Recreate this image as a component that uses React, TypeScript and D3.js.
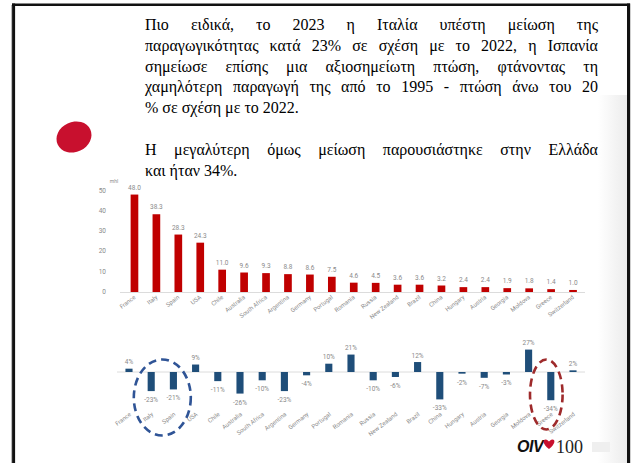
import React, { useMemo } from 'react';
import * as d3 from 'd3';

const countries = [
  'France', 'Italy', 'Spain', 'USA', 'Chile', 'Australia', 'South Africa', 'Argentina',
  'Germany', 'Portugal', 'Romania', 'Russia', 'New Zealand', 'Brazil', 'China', 'Hungary',
  'Austria', 'Georgia', 'Moldova', 'Greece', 'Switzerland',
];
const production = [48.0, 38.3, 28.3, 24.3, 11.0, 9.6, 9.3, 8.8, 8.6, 7.5, 4.6, 4.5, 3.6, 3.6, 3.2, 2.4, 2.4, 1.9, 1.8, 1.4, 1.0];
const changePct = [4, -23, -21, 9, -11, -26, -10, -23, -4, 10, 21, -10, -6, 12, -33, -2, -7, -3, 27, -34, 2];
const productionTicks = [0, 10, 20, 30, 40, 50];
const unitLabel = 'mhl';
const highlightBlue = ['Italy', 'Spain'];
const highlightRed = ['Greece'];

const paragraphLines: { text: string; justify: boolean }[] = [
  { text: 'Πιο ειδικά, το 2023 η Ιταλία υπέστη μείωση της', justify: true },
  { text: 'παραγωγικότητας κατά 23% σε σχέση με το 2022, η Ισπανία', justify: true },
  { text: 'σημείωσε επίσης μια αξιοσημείωτη πτώση, φτάνοντας τη', justify: true },
  { text: 'χαμηλότερη παραγωγή της από το 1995 - πτώση άνω του 20', justify: true },
  { text: '% σε σχέση με το 2022.', justify: false },
  { text: '', justify: false },
  { text: 'Η μεγαλύτερη όμως μείωση παρουσιάστηκε στην Ελλάδα', justify: true },
  { text: 'και ήταν 34%.', justify: false },
];

const W = 632;
const H = 463;
const SERIF = "'Liberation Serif', 'DejaVu Serif', serif";
const SANS = "'Liberation Sans Narrow', 'Roboto', 'Liberation Sans', sans-serif";
const TEXT_SIZE = 16;
const TEXT_LEFT = 145;
const TEXT_RIGHT = 598;
const TEXT_BASE = 30;
const TEXT_LH = 20.8;

function useLayout() {
  return useMemo(() => {
    const c = document.createElement('canvas');
    const ctx = c.getContext('2d')!;
    ctx.font = `${TEXT_SIZE}px ${SERIF}`;
    const spaceW = ctx.measureText(' ').width;
    return paragraphLines.map((ln) => {
      const words = ln.text.split(' ').filter((w) => w.length);
      const widths = words.map((w) => ctx.measureText(w).width);
      const total = widths.reduce((a, b) => a + b, 0);
      const gap = ln.justify && words.length > 1 ? (TEXT_RIGHT - TEXT_LEFT - total) / (words.length - 1) : spaceW;
      let x = TEXT_LEFT;
      return words.map((w, i) => {
        const pos = x;
        x += widths[i] + gap;
        return { w, x: pos };
      });
    });
  }, []);
}

export default function App() {
  const lines = useLayout();

  const xTop = d3.scaleBand<string>().domain(countries).range([123.5, 584]).paddingInner(0.65).paddingOuter(0.325);
  const yTop = d3.scaleLinear().domain([0, 50]).range([292, 190.5]);
  const xBot = d3.scaleBand<string>().domain(countries).range([117.9, 584.1]).paddingInner(0.68).paddingOuter(0.34);
  const yBot = d3.scaleLinear().domain([-40, 30]).range([405.2, 347.1]);

  const blueIdx = highlightBlue.map((c) => (xBot(c)! + xBot.bandwidth() / 2));
  const redIdx = highlightRed.map((c) => (xBot(c)! + xBot.bandwidth() / 2));
  const blueCx = (blueIdx[0] + blueIdx[blueIdx.length - 1]) / 2;
  const redCx = redIdx[0];

  return (
    <svg width={W} height={H} style={{ position: 'absolute', left: 0, top: 0 }} xmlns="http://www.w3.org/2000/svg">
      <defs>
        <linearGradient id="shade" x1="0" x2="1" y1="0" y2="0">
          <stop offset="0" stopColor="#ffffff" />
          <stop offset="1" stopColor="#ececec" />
        </linearGradient>
      </defs>
      <rect x={0} y={0} width={W} height={H} fill="#fff" />
      <rect x={598} y={95} width={29} height={H - 95} fill="url(#shade)" />

      {/* frame */}
      <line x1={12} x2={630} y1={4.8} y2={4.8} stroke="#111" strokeWidth={2.6} />
      <line x1={13.6} x2={13.6} y1={3.5} y2={H} stroke="#111" strokeWidth={3} />
      <line x1={628.6} x2={628.6} y1={3.5} y2={H} stroke="#111" strokeWidth={3.2} />
      <line x1={11.5} x2={11.5} y1={5} y2={H} stroke="#bbb" strokeWidth={1} />

      {/* decorative blob */}
      <ellipse cx={74} cy={137} rx={18} ry={15} transform="rotate(-25 74 137)" fill="#C8102E" />

      {/* paragraph */}
      <g fontFamily={SERIF} fontSize={TEXT_SIZE} fill="#000">
        {lines.map((ws, i) => (
          <text key={i} y={TEXT_BASE + i * TEXT_LH}>
            {ws.map((w, j) => (
              <tspan key={j} x={w.x}>{w.w}</tspan>
            ))}
          </text>
        ))}
      </g>

      {/* top chart: production */}
      <g fontFamily={SANS} fill="#8a8a8a">
        <text x={114} y={183} fontSize={5} textAnchor="middle">{unitLabel}</text>
        {productionTicks.map((t) => (
          <text key={t} x={106} y={yTop(t) + 2} fontSize={6.5} textAnchor="end">{t}</text>
        ))}
        <line x1={120} x2={585} y1={yTop(0) + 0.5} y2={yTop(0) + 0.5} stroke="#dcdcdc" strokeWidth={1} />
        {countries.map((c, i) => {
          const x = xTop(c)!;
          const cx = x + xTop.bandwidth() / 2;
          return (
            <g key={c}>
              <rect x={x} y={yTop(production[i])} width={xTop.bandwidth()} height={yTop(0) - yTop(production[i])} fill="#C00000" />
              <text x={cx} y={yTop(production[i]) - 5} fontSize={6.5} textAnchor="middle">{production[i].toFixed(1)}</text>
              <text transform={`translate(${cx + 1.5},${298}) rotate(-38)`} fontSize={6} textAnchor="end">{c}</text>
            </g>
          );
        })}
      </g>

      {/* bottom chart: % change */}
      <g fontFamily={SANS} fill="#8a8a8a">
        <line x1={117} x2={585} y1={yBot(0)} y2={yBot(0)} stroke="#dcdcdc" strokeWidth={1} />
        {countries.map((c, i) => {
          const x = xBot(c)!;
          const cx = x + xBot.bandwidth() / 2;
          const v = changePct[i];
          const y0 = yBot(0);
          const y1 = yBot(v);
          return (
            <g key={c}>
              <rect x={x} y={Math.min(y0, y1)} width={xBot.bandwidth()} height={Math.abs(y1 - y0)} fill="#1F4E79" />
              <text x={cx} y={v >= 0 ? y1 - 4.5 : y1 + 11} fontSize={6.5} textAnchor="middle">{`${v}%`}</text>
              <text transform={`translate(${cx + 2.5},${415}) rotate(-38)`} fontSize={6} textAnchor="end">{c}</text>
            </g>
          );
        })}
        <ellipse cx={blueCx} cy={397.5} rx={28.5} ry={38} fill="none" stroke="#2F5496" strokeWidth={2.6} strokeDasharray="8 5" />
        <ellipse cx={redCx - 4.5} cy={394.5} rx={16.3} ry={35} fill="none" stroke="#9E2A2B" strokeWidth={2.6} strokeDasharray="8 5" />
      </g>

      {/* OIV 100 logo */}
      <g>
        <text x={517} y={452} fontFamily="'Liberation Sans', Arial, sans-serif" fontWeight="bold" fontStyle="italic" fontSize={16} fill="#111" letterSpacing={-0.5}>OIV</text>
        <path d="M549,449 C542.5,444 542.5,439.5 545.5,439.5 C547.2,439.5 549,441.5 549,441.5 C549,441.5 550.8,439.5 552.5,439.5 C555.5,439.5 555.5,444 549,449 Z" fill="#C8102E" />
        <text x={556} y={453} fontFamily={SERIF} fontSize={18} fill="#222">100</text>
        <rect x={592} y={442} width={18} height={10} fill="#efefef" />
      </g>
    </svg>
  );
}
